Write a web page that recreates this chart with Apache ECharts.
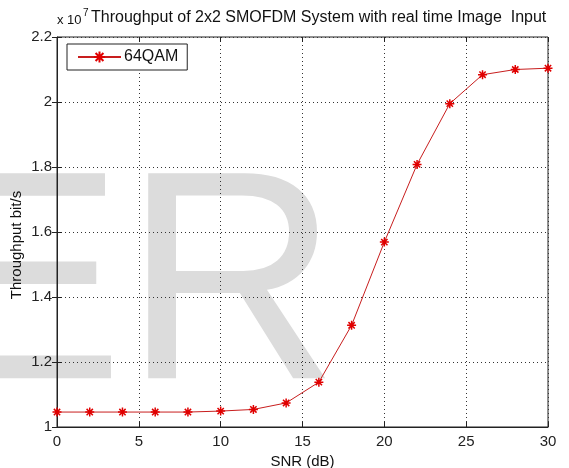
<!DOCTYPE html>
<html>
<head>
<meta charset="utf-8">
<script src="https://cdn.jsdelivr.net/npm/echarts@6/dist/echarts.min.js"></script>
<style>
  html, body { margin: 0; padding: 0; background: #fff; }
  #box { width: 569px; height: 468px; }
</style>
</head>
<body>
<div id="box"></div>
<script>
// SNR in dB, throughput in units of 1e7 bit/s (as shown on the axis)
var snr = [0, 2, 4, 6, 8, 10, 12, 14, 16, 18, 20, 22, 24, 26, 28, 30]
var throughput64qam = [1.046, 1.046, 1.046, 1.046, 1.046, 1.049, 1.054, 1.074, 1.138, 1.313, 1.569, 1.808, 1.995, 2.084, 2.100, 2.104]
var seriesName = '64QAM'
var titleText = 'Throughput of 2x2 SMOFDM System with real time Image  Input'
var yName = 'Throughput bit/s'
var xName = 'SNR (dB)'

var points = snr.map(function (x, i) { return [x, throughput64qam[i]] })

var starPath = 'path://M0,-1L0,1M-1,0L1,0M-0.7,-0.7L0.7,0.7M-0.7,0.7L0.7,-0.7'
var font = 'Liberation Sans, Arial, sans-serif'

var chart = echarts.init(document.getElementById('box'))

var boxAxis = {
    axisLine: { show: false },
    axisTick: { show: true, inside: true, length: 5, lineStyle: { color: '#222' } },
    axisLabel: { show: false },
    splitLine: { show: false }
}

chart.setOption({
    backgroundColor: '#fff',
    animation: false,
    textStyle: { fontFamily: font },
    grid: {
        left: 57, right: 21, top: 37, bottom: 41,
        outerBoundsMode: 'none',
        containLabel: false,
        show: true, borderColor: '#222', borderWidth: 1, backgroundColor: 'transparent'
    },
    legend: {
        data: [seriesName],
        left: 67, top: 44,
        orient: 'vertical',
        padding: [5, 9, 5, 10],
        borderColor: '#222', borderWidth: 1,
        backgroundColor: '#fff',
        itemWidth: 43, itemHeight: 14, itemGap: 0,
        textStyle: { fontSize: 16, color: '#111', fontFamily: font, padding: [0, 0, 0, -2] }
    },
    graphic: [
        {
            type: 'text', z: -100, silent: true,
            style: { x: -75, y: 296, text: 'ER', font: '298px Liberation Sans, Arial, sans-serif',
                fill: '#dcdcdc', textVerticalAlign: 'middle' }
        },
        {
            type: 'text',
            style: { x: 57, y: 20, text: 'x 10', font: '13px ' + font, fill: '#111', textVerticalAlign: 'middle' }
        },
        {
            type: 'text',
            style: { x: 83, y: 13, text: '7', font: '10px ' + font, fill: '#111', textVerticalAlign: 'middle' }
        },
        {
            type: 'text',
            style: { x: 91, y: 18, text: titleText, font: '16px ' + font, fill: '#111', textVerticalAlign: 'middle' }
        },
        {
            type: 'text', x: 17, y: 245, rotation: Math.PI / 2,
            style: { x: 0, y: 0, text: yName, font: '15px ' + font, fill: '#111',
                textAlign: 'center', textVerticalAlign: 'middle' }
        }
    ],
    xAxis: [{
        type: 'value',
        min: 0, max: 30, interval: 5,
        name: xName,
        nameLocation: 'middle',
        nameGap: 24,
        nameTextStyle: { fontSize: 15, color: '#111' },
        axisLine: { show: true, lineStyle: { color: '#222' } },
        axisTick: { inside: true, length: 5, lineStyle: { color: '#222' } },
        axisLabel: { fontSize: 15, color: '#222', margin: 7 },
        splitLine: { show: true, lineStyle: { color: '#333', type: [1, 3], width: 1 } }
    }, Object.assign({ type: 'value', position: 'top', min: 0, max: 30, interval: 5 }, boxAxis)],
    yAxis: [{
        type: 'value',
        min: 1, max: 2.2, interval: 0.2,
        axisLine: { show: true, lineStyle: { color: '#222' } },
        axisTick: { inside: true, length: 5, lineStyle: { color: '#222' } },
        axisLabel: { fontSize: 15, color: '#222', margin: 5,
            formatter: function (v) { return +v.toFixed(1) + '' } },
        splitLine: { show: true, lineStyle: { color: '#333', type: [1, 3], width: 1 } }
    }, Object.assign({ type: 'value', position: 'right', min: 1, max: 2.2, interval: 0.2 }, boxAxis)],
    series: [{
        name: seriesName,
        type: 'line',
        data: points,
        symbol: starPath,
        symbolSize: 9,
        lineStyle: { color: '#c81e1e', width: 1 },
        itemStyle: { color: '#e00000', borderColor: '#e00000', borderWidth: 1.5 },
        z: 5
    }]
})
</script>
</body>
</html>
